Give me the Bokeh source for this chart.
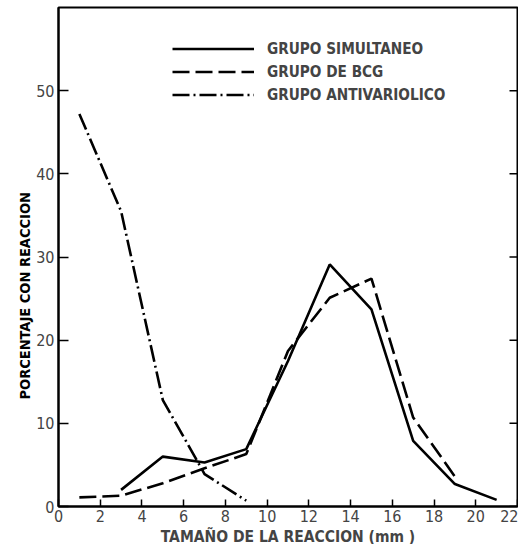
from bokeh.plotting import figure
from bokeh.models import Range1d, FixedTicker, Legend, LegendItem, Title
from bokeh.embed import file_html
from bokeh.resources import INLINE

# Data
x_sim = [3, 5, 7, 9, 11, 13, 15, 17, 19, 21]
y_sim = [2.0, 6.0, 5.3, 6.9, 17.5, 29.1, 23.7, 7.9, 2.7, 0.8]

x_bcg = [1, 3, 5, 7, 9, 11, 13, 15, 17, 19]
y_bcg = [1.1, 1.3, 2.8, 4.6, 6.3, 18.7, 25.1, 27.4, 10.7, 3.6]

x_anti = [1, 3, 5, 7, 9]
y_anti = [47.2, 35.5, 12.8, 3.9, 0.7]

x_ticks = list(range(0, 23, 2))
y_ticks = [0, 10, 20, 30, 40, 50]

labels = ["GRUPO SIMULTANEO", "GRUPO DE BCG", "GRUPO ANTIVARIOLICO"]
x_title = "TAMAÑO DE LA REACCION (mm )"
y_title = "PORCENTAJE CON REACCION"

TICK_FONT = "'Liberation Sans Narrow', 'DejaVu Sans Condensed', sans-serif"
TITLE_FONT = "'DejaVu Sans Condensed', 'Liberation Sans Narrow', sans-serif"

p = figure(frame_width=459, frame_height=499, output_backend="svg", toolbar_location=None,
           x_range=Range1d(0, 22), y_range=Range1d(0, 60),
           min_border_left=58, min_border_right=1, min_border_top=7, min_border_bottom=30)
p.grid.visible = False
p.outline_line_color = "black"
p.outline_line_width = 2
p.background_fill_color = "white"
p.border_fill_color = "white"

r1 = p.line(x_sim, y_sim, line_color="black", line_width=2.6)
r2 = p.line(x_bcg, y_bcg, line_color="black", line_width=2.6, line_dash="17 6")
r3 = p.line(x_anti, y_anti, line_color="black", line_width=2.6, line_dash="17 4 2 4")

# inward tick marks on the right side of the frame
p.scatter([x_ticks[-1]] * len(y_ticks), y_ticks, marker="dash", size=16,
          line_color="black", line_width=1.5)

# bottom axis
xa = p.xaxis[0]
xa.ticker = FixedTicker(ticks=x_ticks)
xa.major_tick_in = 7
xa.major_tick_out = 0
xa.minor_tick_line_color = None
xa.axis_line_width = 2
xa.major_tick_line_width = 1.5
xa.major_label_text_font = TICK_FONT
xa.major_label_text_font_size = "16px"
xa.major_label_standoff = 3
xa.axis_label = x_title
xa.axis_label_text_font = TITLE_FONT
xa.axis_label_text_font_style = "bold"
xa.axis_label_text_font_size = "15.5px"
xa.axis_label_standoff = 3

# left axis
ya = p.yaxis[0]
ya.ticker = FixedTicker(ticks=y_ticks)
ya.major_tick_in = 10
ya.major_tick_out = 0
ya.minor_tick_line_color = None
ya.axis_line_width = 2
ya.major_tick_line_width = 1.5
ya.major_label_text_font = TICK_FONT
ya.major_label_text_font_size = "16px"
ya.major_label_standoff = 4

# y title, set lower than the centre as in the original
p.add_layout(Title(text=y_title, align="left", offset=107, standoff=2,
                   text_font=TITLE_FONT, text_font_style="bold", text_font_size="14.5px",
                   text_color="black"), "left")

legend = Legend(items=[LegendItem(label=labels[0], renderers=[r1]),
                       LegendItem(label=labels[1], renderers=[r2]),
                       LegendItem(label=labels[2], renderers=[r3])],
                location=(114, 400), glyph_width=82, glyph_height=23, label_height=23,
                label_standoff=13, spacing=0, padding=0, margin=0,
                border_line_alpha=0, background_fill_alpha=0,
                label_text_font=TITLE_FONT, label_text_font_style="bold",
                label_text_font_size="15.2px")
p.add_layout(legend, "center")

open("out.html", "w").write(file_html(p, INLINE))
